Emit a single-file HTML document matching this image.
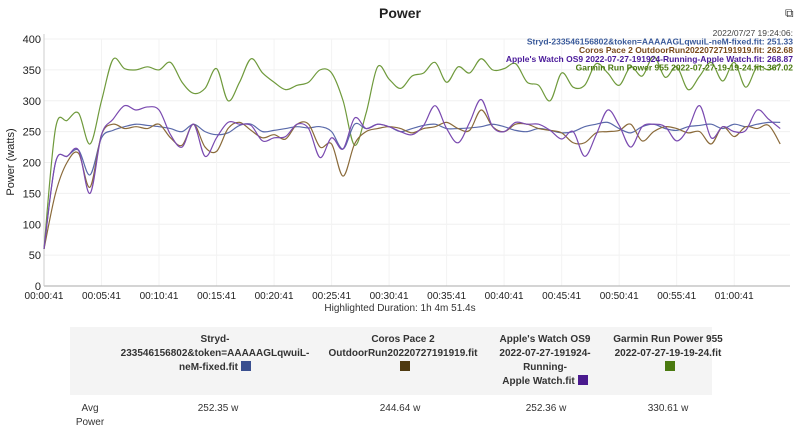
<!DOCTYPE html>
<html><head><meta charset="utf-8"><style>
body{margin:0;background:#fff;font-family:"Liberation Sans",sans-serif;}
#wrap{position:relative;width:800px;height:434px;overflow:hidden;}
.t{position:absolute;font-size:10px;color:#333;text-align:center;line-height:14px;}
.sw{display:inline-block;width:10px;height:10px;vertical-align:-1px;margin-left:3px;}
</style></head><body>
<div id="wrap">
<svg id="chart" width="800" height="320" style="position:absolute;left:0;top:0"></svg>
<div style="position:absolute;left:70px;top:327px;width:642px;height:68px;background:#f4f4f4"></div>
<div class="t" style="left:115px;top:333px;width:200px;font-weight:bold;font-size:10px">Stryd-<br>233546156802&amp;token=AAAAAGLqwuiL-<br>neM-fixed.fit<span class="sw" style="background:#3a4f8f"></span></div>
<div class="t" style="left:323px;top:333px;width:160px;font-weight:bold">Coros Pace 2<br>OutdoorRun20220727191919.fit<br><span class="sw" style="background:#4f3a10"></span></div>
<div class="t" style="left:485px;top:333px;width:120px;font-weight:bold">Apple's Watch OS9<br>2022-07-27-191924-<br>Running-<br>Apple Watch.fit<span class="sw" style="background:#4a1a8f"></span></div>
<div class="t" style="left:606px;top:333px;width:124px;font-weight:bold">Garmin Run Power 955<br>2022-07-27-19-19-24.fit<br><span class="sw" style="background:#4a7a10"></span></div>
<div class="t" style="left:70px;top:402px;width:40px">Avg<br>Power</div>
<div class="t" style="left:168px;top:402px;width:100px">252.35 w</div>
<div class="t" style="left:350px;top:402px;width:100px">244.64 w</div>
<div class="t" style="left:496px;top:402px;width:100px">252.36 w</div>
<div class="t" style="left:618px;top:402px;width:100px">330.61 w</div>
</div>
<script>
const xTicks=["00:00:41","00:05:41","00:10:41","00:15:41","00:20:41","00:25:41","00:30:41","00:35:41","00:40:41","00:45:41","00:50:41","00:55:41","01:00:41"];
const yTicks=[0,50,100,150,200,250,300,350,400];
const garmin=[60,255,268,280,230,300,367,352,350,355,350,362,330,312,320,352,300,330,368,345,330,318,325,330,350,345,300,228,280,355,335,320,340,345,362,330,355,345,368,350,352,360,330,325,300,345,322,325,360,345,325,355,340,372,338,355,318,340,362,332,362,322,355,350,360];
const stryd=[60,200,210,220,180,240,252,258,262,260,258,255,250,262,250,245,248,260,262,250,252,255,258,256,258,250,222,262,255,262,258,250,255,260,262,255,255,256,258,262,258,252,250,255,252,248,250,258,262,265,255,248,258,262,255,252,258,260,262,255,262,258,262,265,265];
const coros=[60,150,200,215,160,245,262,255,258,255,262,240,228,262,225,218,255,265,252,240,245,238,262,262,225,230,178,230,250,255,258,255,248,255,258,265,255,252,285,258,250,262,262,255,252,248,232,232,248,250,252,262,235,250,258,255,248,250,230,258,242,258,255,260,230];
const apple=[60,200,210,220,150,245,270,292,285,290,285,245,225,262,210,240,265,262,260,235,240,242,262,255,208,240,222,272,255,262,258,250,245,260,292,255,232,265,302,258,250,265,262,262,252,238,250,210,245,285,260,225,258,262,258,235,255,292,240,258,250,252,285,270,255];
const series=[{n:"garmin-line",c:"#6f9a3c",d:garmin},{n:"stryd-line",c:"#5a6aaa",d:stryd},{n:"coros-line",c:"#8a6a3a",d:coros},{n:"apple-line",c:"#7a4ab0",d:apple}];
const X0=44,X1=790,Y0=286,Y1=39,TMAX=64.85;
const xs=t=>X0+t*(X1-X0)/TMAX;
const ys=v=>Y0-(v/400)*(Y0-Y1);
const svg=document.getElementById('chart');const NS="http://www.w3.org/2000/svg";
function mk(tag,a,txt){const e=document.createElementNS(NS,tag);for(const k in a)e.setAttribute(k,a[k]);if(txt!==undefined)e.textContent=txt;svg.appendChild(e);return e;}
let e;
e=mk('text',{x:400,y:18,'text-anchor':'middle','font-size':14,'font-weight':'bold',fill:'#222'},'Power');


yTicks.forEach(v=>{e=mk('line',{x1:X0,x2:X1,y1:ys(v),y2:ys(v),stroke:'#f0f0f0'});


e=mk('text',{x:X0-3,y:ys(v)+4,'text-anchor':'end','font-size':11,fill:'#222'},v);

});
xTicks.forEach((s,i)=>{const x=xs(i*5);e=mk('line',{x1:x,x2:x,y1:Y1,y2:Y0,stroke:'#f3f3f3'});


e=mk('text',{x:x,y:Y0+13,'text-anchor':'middle','font-size':10,fill:'#222'},s);

});
e=mk('line',{x1:X0,x2:X1,y1:Y0,y2:Y0,stroke:'#aaa'});


e=mk('line',{x1:X0,x2:X0,y1:Y1-5,y2:Y0,stroke:'#ccc'});


e=mk('text',{x:14,y:162,'text-anchor':'middle','font-size':11,fill:'#222',transform:'rotate(-90 14 162)'},'Power (watts)');


e=mk('text',{x:400,y:311,'text-anchor':'middle','font-size':10,fill:'#333'},'Highlighted Duration: 1h 4m 51.4s');


series.forEach(s=>{const p=s.d.map((v,i)=>[xs(i),ys(v)]);let d='M'+p[0][0]+','+p[0][1];
for(let i=0;i<p.length-1;i++){const a=p[Math.max(0,i-1)],b=p[i],c=p[i+1],f=p[Math.min(p.length-1,i+2)];
d+=' C'+(b[0]+(c[0]-a[0])/6)+','+(b[1]+(c[1]-a[1])/6)+' '+(c[0]-(f[0]-b[0])/6)+','+(c[1]-(f[1]-b[1])/6)+' '+c[0]+','+c[1];}
e=mk('path',{d:d,fill:'none',stroke:s.c,'stroke-width':1.2});

});
const leg=[["2022/07/27 19:24:06:","#444"],["Stryd-233546156802&token=AAAAAGLqwuiL-neM-fixed.fit: 251.33","#3a5a9a"],["Coros Pace 2 OutdoorRun20220727191919.fit: 262.68","#7a4a1a"],["Apple's Watch OS9 2022-07-27-191924-Running-Apple Watch.fit: 268.87","#4a1a9a"],["Garmin Run Power 955 2022-07-27-19-19-24.fit: 367.02","#4a7a10"]];
leg.forEach((l,i)=>{e=mk('text',{x:793,y:36+i*8.6,'text-anchor':'end','font-size':8.5,'font-weight':i?'bold':'normal',fill:l[1]},l[0]);

});
e=mk('text',{x:785,y:17,'font-size':12,fill:'#333'},'⧉');


</script>
</body></html>
